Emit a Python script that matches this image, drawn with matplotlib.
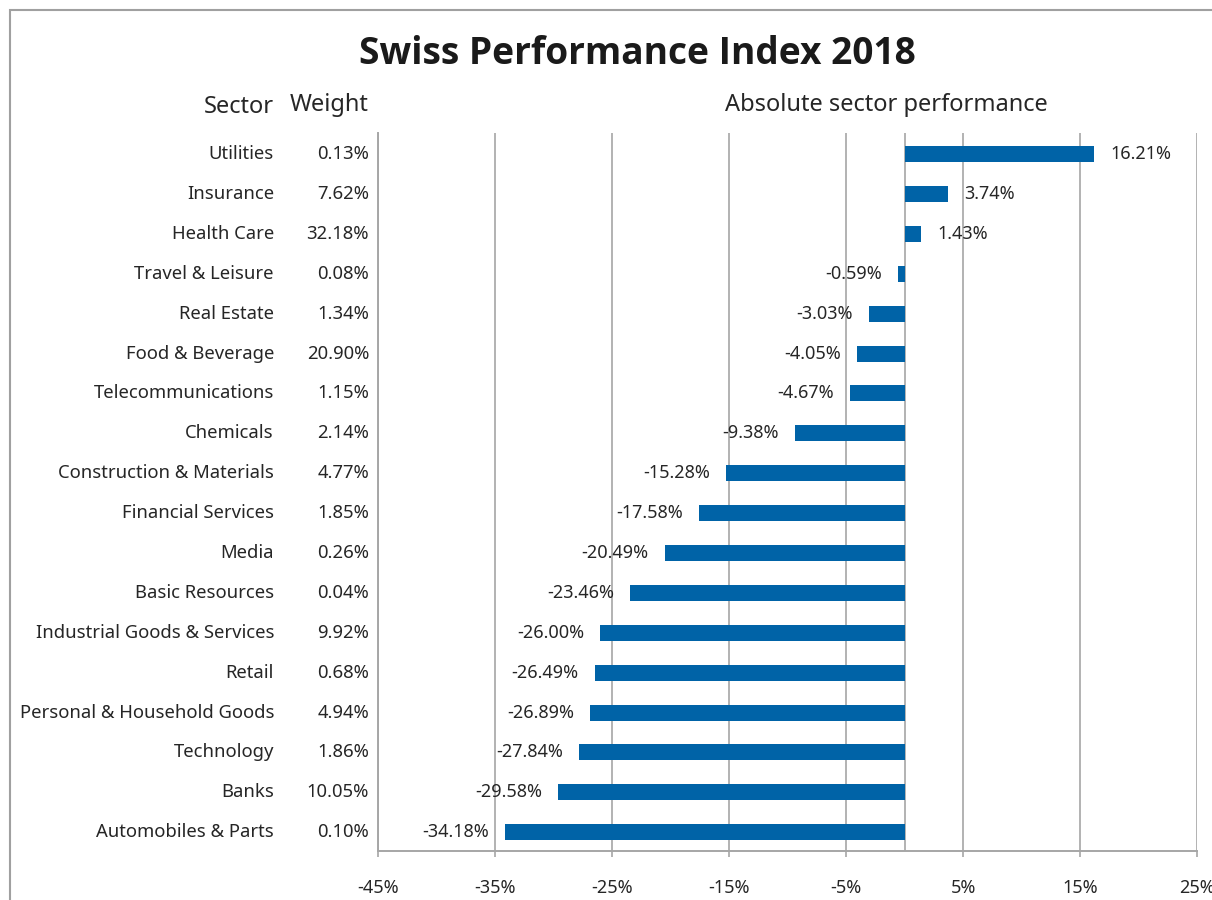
import matplotlib
matplotlib.use("Agg")
import matplotlib.pyplot as plt
import matplotlib.transforms as transforms
from matplotlib.patches import Rectangle

plt.rcParams['font.family'] = ['Noto Sans', 'DejaVu Sans']

sectors = ['Utilities', 'Insurance', 'Health Care', 'Travel & Leisure', 'Real Estate',
           'Food & Beverage', 'Telecommunications', 'Chemicals', 'Construction & Materials',
           'Financial Services', 'Media', 'Basic Resources', 'Industrial Goods & Services',
           'Retail', 'Personal & Household Goods', 'Technology', 'Banks', 'Automobiles & Parts']
weights = [0.13, 7.62, 32.18, 0.08, 1.34, 20.90, 1.15, 2.14, 4.77,
           1.85, 0.26, 0.04, 9.92, 0.68, 4.94, 1.86, 10.05, 0.10]
performance = [16.21, 3.74, 1.43, -0.59, -3.03, -4.05, -4.67, -9.38, -15.28,
               -17.58, -20.49, -23.46, -26.00, -26.49, -26.89, -27.84, -29.58, -34.18]
xticks = [-45, -35, -25, -15, -5, 5, 15, 25]

textColor = '#262626'
gridColor = '#a6a6a6'
barColor = '#0063a7'

fig = plt.figure(figsize=(12.12, 9), dpi=100)
ax = fig.add_axes([378/1212, 49/900, 819/1212, 718/900])

ypos = list(range(len(sectors)))
ax.barh(ypos, performance, height=0.4, color=barColor, zorder=3)
ax.axvline(0, color=gridColor, lw=1.2, zorder=2)

ax.set_xlim(-45, 25)
ax.set_ylim(17.47, -0.53)
ax.set_xticks(xticks)
ax.set_xticklabels([f'{t}%' for t in xticks], fontsize=13, color=textColor)
ax.tick_params(axis='x', length=4, width=1.2, color=gridColor, pad=16)
ax.set_yticks([])
ax.grid(axis='x', color=gridColor, lw=1.2, zorder=1)
for side in ['top', 'right']:
    ax.spines[side].set_visible(False)
for side in ['left', 'bottom']:
    ax.spines[side].set_color(gridColor)
    ax.spines[side].set_linewidth(1.4)

# value labels
for y, v in zip(ypos, performance):
    if v >= 0:
        ax.annotate(f'{v:.2f}%', (v, y), xytext=(11.5, 0), textcoords='offset points',
                    ha='left', va='center', fontsize=13, color=textColor, zorder=4)
    else:
        ax.annotate(f'{v:.2f}%', (v, y), xytext=(-11.5, 0), textcoords='offset points',
                    ha='right', va='center', fontsize=13, color=textColor, zorder=4)

# sector names and weights to the left
trans = transforms.blended_transform_factory(fig.transFigure, ax.transData)
for y, s, w in zip(ypos, sectors, weights):
    ax.text(274/1212, y, s, transform=trans, ha='right', va='center', fontsize=13.3, color=textColor)
    ax.text(369/1212, y, f'{w:.2f}%', transform=trans, ha='right', va='center', fontsize=13.3, color=textColor)

# headers
fig.text(274/1212, 1 - 107/900, 'Sector', ha='right', va='center', fontsize=17, color=textColor)
fig.text(290/1212, 1 - 105/900, 'Weight', ha='left', va='center', fontsize=17, color=textColor)
fig.text(886/1212, 1 - 105/900, 'Absolute sector performance', ha='center', va='center', fontsize=17, color=textColor)
fig.text(637/1212, 1 - 54/900, 'Swiss Performance Index 2018', ha='center', va='center',
         fontsize=26.7, fontweight='bold', family=['Open Sans', 'DejaVu Sans'], color='#1a1a1a')

# outer frame
fig.patches.append(Rectangle((10/1212, -0.1), 1.2, 1 - 10/900 + 0.1, transform=fig.transFigure,
                             fill=False, edgecolor='#a0a0a0', lw=1.5))

fig.savefig('out.png', dpi=100)
